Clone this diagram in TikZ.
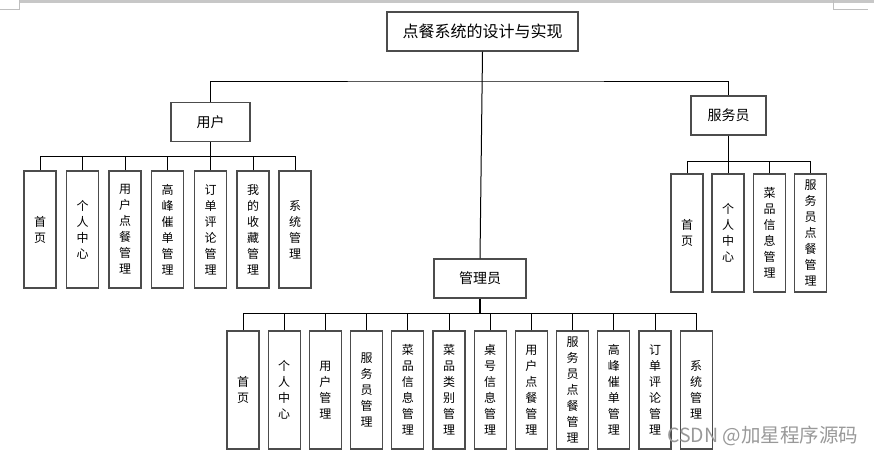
\documentclass[tikz,border=0pt]{standalone}
\usepackage{fontspec}
\newfontfamily\cjk{Noto Sans CJK SC}
\begin{document}
\begin{tikzpicture}[x=1pt,y=-1pt,
  boxline/.style={draw=black!70, line width=1.2pt, fill=white, inner sep=0pt},
  titlebox/.style={boxline, minimum width=191pt, minimum height=39pt, font=\cjk\fontsize{16}{18}\selectfont},
  rolebox/.style={boxline, minimum height=39pt, font=\cjk\fontsize{14}{16}\selectfont},
  leaf/.style={boxline, minimum width=32pt, minimum height=118pt, align=center, font=\cjk\fontsize{12}{16}\selectfont},
  conn/.style={draw=black, line width=1pt},
  drop/.style={draw=black, line width=1.6pt},
  pagemark/.style={draw=black!25, line width=0.8pt}
]
\useasboundingbox (0,0) rectangle (874,456);
% page marks
\draw[draw=black!22, line width=3pt] (20,1.5) -- (874,1.5);
\draw[pagemark] (0,9) -- (19.5,9) -- (19.5,0);
\draw[pagemark] (833,0) -- (833,9) -- (868,9);

% top levels
\node[titlebox] (title) at (482.5,31.5) {点餐系统的设计与实现};
\node[rolebox, minimum width=79pt] (user) at (210.5,122) {用户};
\node[rolebox, minimum width=75pt] (waiter) at (728.5,115.5) {服务员};
\node[rolebox, minimum width=92pt] (admin) at (480,278.5) {管理员};

\coordinate (tb) at (482,81);
\draw[conn] (user.north) |- (tb) -| (waiter.north);
\draw[conn] (title.south) -- (admin.north);

% user leaves
\coordinate (ub) at (210.5,156);
\foreach \i/\x/\t in {1/40/{首\\页},2/82.5/{个\\人\\中\\心},3/125/{用\\户\\点\\餐\\管\\理},4/167.5/{高\\峰\\催\\单\\管\\理},5/210.5/{订\\单\\评\\论\\管\\理},6/253/{我\\的\\收\\藏\\管\\理},7/295/{系\\统\\管\\理}}{
  \node[leaf, minimum height=117pt] (u\i) at (\x,229.5) {\t};
  \draw[conn] (u\i.north) -- (u\i.north |- ub);
}
\draw[drop] (user.south) -- (ub);
\draw[conn] (u1.north |- ub) -- (u7.north |- ub);

% waiter leaves
\coordinate (wb) at (728.5,161);
\foreach \i/\x/\t in {1/687/{首\\页},2/728/{个\\人\\中\\心},3/769.5/{菜\\品\\信\\息\\管\\理},4/810.5/{服\\务\\员\\点\\餐\\管\\理}}{
  \node[leaf] (w\i) at (\x,233) {\t};
  \draw[conn] (w\i.north) -- (w\i.north |- wb);
}
\draw[drop] (waiter.south) -- (wb);
\draw[conn] (w1.north |- wb) -- (w4.north |- wb);

% admin leaves
\coordinate (ab) at (480,313);
\foreach \i/\t in {0/{首\\页},1/{个\\人\\中\\心},2/{用\\户\\管\\理},3/{服\\务\\员\\管\\理},4/{菜\\品\\信\\息\\管\\理},5/{菜\\品\\类\\别\\管\\理},6/{桌\\号\\信\\息\\管\\理},7/{用\\户\\点\\餐\\管\\理},8/{服\\务\\员\\点\\餐\\管\\理},9/{高\\峰\\催\\单\\管\\理},10/{订\\单\\评\\论\\管\\理},11/{系\\统\\管\\理}}{
  \node[leaf] (a\i) at ({243+41.2*\i},390) {\t};
  \draw[conn] (a\i.north) -- (a\i.north |- ab);
}
\draw[drop] (admin.south) -- (ab);
\draw[conn] (a0.north |- ab) -- (a11.north |- ab);

% watermark
\node[anchor=west, inner sep=0pt, text=black!40, font=\cjk\fontsize{19.5}{21}\selectfont] (wm) at (667,436) {CSDN @加星程序源码};
\end{tikzpicture}
\end{document}
